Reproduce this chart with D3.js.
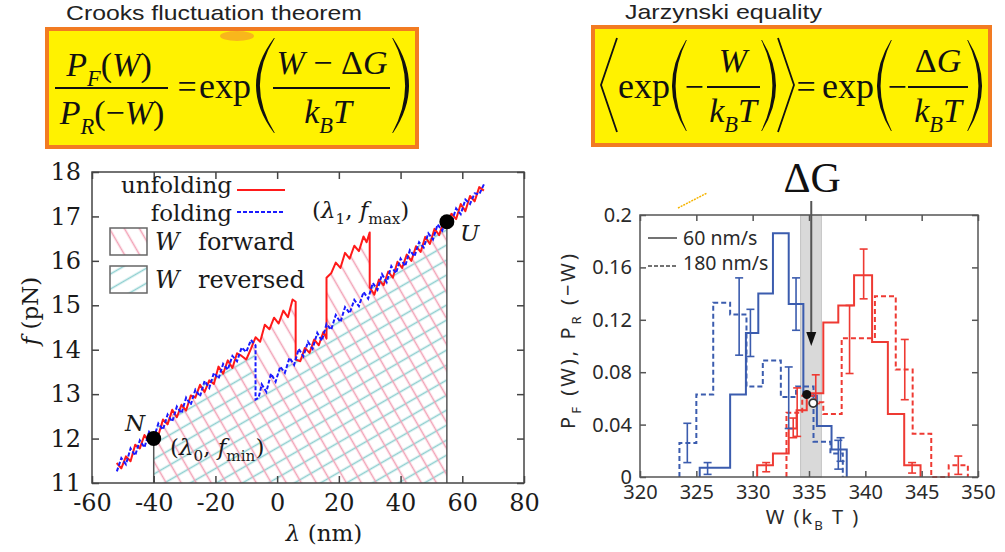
<!DOCTYPE html>
<html lang="en">
<head>
<meta charset="UTF-8" />
<title>Crooks fluctuation theorem / Jarzynski equality</title>
<script src="https://d3js.org/d3.v7.min.js"></script>
<style>
  body { margin: 0; background: #fff; }
  svg { display: block; }
</style>
</head>
<body>
<div id="chart"></div>
<script>
// ---- left panel: pulling traces, lambda (nm) vs force (pN)
const unfolding = [
  [-52, 11.45], [-50.5, 11.33], [-49, 11.60], [-47.5, 11.49], [-46, 11.86], [-44.5, 11.78],
  [-43, 12.08], [-41.5, 11.92], [-40, 12.10], [-38.5, 12.07], [-37, 12.43], [-35.5, 12.32],
  [-34, 12.65], [-32.5, 12.48], [-31, 12.76], [-29.5, 12.63], [-28, 12.97], [-26.5, 12.92],
  [-25, 13.21], [-23.5, 13.05], [-22, 13.31], [-20.5, 13.23], [-19, 13.62], [-17.5, 13.46],
  [-16, 13.76], [-14.5, 13.59], [-13, 13.92], [-11.5, 13.86], [-10, 13.78], [-8.5, 14.02],
  [-7, 14.28], [-5.5, 14.18], [-4, 14.56], [-2.5, 14.46], [-1, 14.72], [0.5, 14.59],
  [2, 14.88], [3.5, 14.73], [5, 15.13], [6, 15.08],
  [6, 13.78], [7.5, 13.74], [9, 14.04], [10.5, 13.93], [12, 14.23], [13.5, 14.10], [15, 14.40], [16, 14.25],
  [16, 15.62], [17.5, 15.72], [19, 15.96], [20.5, 15.84], [22, 16.18], [23.5, 16.05],
  [25, 16.34], [26.5, 16.22], [28, 16.55], [29, 16.42], [30, 16.64],
  [30, 15.40], [31.5, 15.24], [33, 15.58], [34.5, 15.45], [36, 15.76], [37.5, 15.62],
  [39, 15.98], [40.5, 15.84], [42, 16.14], [43.5, 16.00], [45, 16.33], [46.5, 16.20],
  [48, 16.54], [49.5, 16.38], [51, 16.72], [52.5, 16.58], [54, 16.90], [55, 16.86],
  [56.5, 17.06], [58, 16.94], [59.5, 17.28], [61, 17.12], [62.5, 17.46], [64, 17.34],
  [65.5, 17.66], [67, 17.58]
];
const folding = [
  [67, 17.72], [65.5, 17.50], [64, 17.52], [62.5, 17.28], [61, 17.38], [59.5, 17.05],
  [58, 17.18], [56.5, 16.86], [55, 16.98], [53.5, 16.68], [52, 16.82], [50.5, 16.48],
  [49, 16.62], [47.5, 16.30], [46, 16.42], [44.5, 16.10], [43, 16.24], [41.5, 15.88],
  [40, 16.05], [38.5, 15.72], [37, 15.88], [35.5, 15.52], [34, 15.70], [32.5, 15.35],
  [31, 15.50], [29.5, 15.15], [28, 15.30], [26.5, 14.98], [25, 15.12], [23.5, 14.82],
  [22, 14.96], [20.5, 14.62], [19, 14.78], [17.5, 14.45], [16, 14.58], [14.5, 14.20],
  [13, 14.38], [11.5, 14.02], [10, 14.18], [8.5, 13.85], [7, 14.02], [5.5, 13.66],
  [4, 13.82], [2.5, 13.48], [1, 13.62], [-0.5, 13.28], [-2, 13.46], [-3.5, 13.05],
  [-5, 13.22], [-6, 12.92], [-7, 12.88],
  [-7, 14.10], [-8.5, 14.22], [-10, 13.95], [-11.5, 14.05], [-13, 13.74], [-14.5, 13.86],
  [-16, 13.55], [-17.5, 13.68], [-19, 13.35], [-20.5, 13.48], [-22, 13.14], [-23.5, 13.30],
  [-25, 12.95], [-26.5, 13.10], [-28, 12.76], [-29.5, 12.92], [-31, 12.57], [-32.5, 12.72],
  [-34, 12.38], [-35.5, 12.54], [-37, 12.20], [-38.5, 12.34], [-40, 12.00], [-41.5, 12.15],
  [-43, 11.80], [-44.5, 11.96], [-46, 11.62], [-47.5, 11.78], [-49, 11.42], [-50.5, 11.56],
  [-52, 11.25]
];
const lambdaTicks = [-60, -40, -20, 0, 20, 40, 60, 80];
const forceTicks = [11, 12, 13, 14, 15, 16, 17, 18];
const lambda0 = -40, fMin = 12.0;
const lambda1 = 55, fMax = 16.88;

// ---- right panel: work histograms (W in kBT)
const revSlowEdges = [325.3, 328.0, 329.4, 330.5, 331.8, 333.2, 334.5, 335.7, 337.0, 338.35];
const revSlow = [0.007, 0.063, 0.110, 0.140, 0.186, 0.132, 0.062, 0.039, 0.021];
const revFastEdges = [323.5, 325.0, 326.5, 328.0, 329.45, 330.9, 332.5, 333.85, 335.4, 336.9, 338.0];
const revFast = [0.026, 0.063, 0.133, 0.124, 0.069, 0.089, 0.061, 0.069, 0.027, 0.018];
const fwdSlowEdges = [330.4, 331.8, 333.2, 333.9, 334.8, 336.27, 337.6, 339.0, 340.6, 342.0, 343.45, 344.9];
const fwdSlow = [0.009, 0.018, 0.037, 0.051, 0.064, 0.118, 0.131, 0.154, 0.103, 0.048, 0.009];
const fwdFastEdges = [333.0, 334.4, 335.5, 336.27, 337.9, 340.85, 342.7, 344.2, 345.85, 347.4, 349.1];
const fwdFast = [0.049, 0.062, 0.057, 0.048, 0.106, 0.138, 0.082, 0.033, 0, 0.009];
// error bars: [W, low, high]
const revErrors = [
  [324.2, 0.011, 0.041], [326.0, 0.002, 0.011], [328.8, 0.093, 0.152], [329.8, 0.092, 0.128],
  [333.2, 0.037, 0.084], [333.85, 0.112, 0.152], [337.6, 0.006, 0.028], [337.8, 0.012, 0.030]
];
const fwdErrors = [
  [331.2, 0.004, 0.011], [333.6, 0.030, 0.045], [333.95, 0.031, 0.068], [335.6, 0.056, 0.078],
  [338.6, 0.079, 0.131], [339.85, 0.136, 0.174], [343.5, 0.059, 0.105], [344.15, 0.003, 0.011],
  [348.25, 0.002, 0.016]
];
const wTicks = [320, 325, 330, 335, 340, 345, 350];
const pTicks = [0, 0.04, 0.08, 0.12, 0.16, 0.2];
const deltaG = 335.2, deltaGLow = 334.25, deltaGHigh = 336.1, arrowTip = 0.1;
const crossSlow = [334.8, 0.063];
const crossFast = [335.37, 0.0564];

const width = 1005, height = 552;
const svg = d3.select('#chart').append('svg').attr('width', width).attr('height', height);
svg.append('rect').attr('width', width).attr('height', height).attr('fill', '#fff');
const defs = svg.append('defs');

const SERIF = "'Liberation Serif', 'Times New Roman', serif";
const CM = "'DejaVu Serif', serif";
const SANS = "'Noto Sans', 'Open Sans', sans-serif";

// text with italic / subscript pieces
function rich(g, x, y, parts, o) {
  const t = g.append('text').attr('x', x).attr('y', y)
    .attr('font-family', o.family).attr('font-size', o.size)
    .attr('text-anchor', o.anchor || 'start').attr('fill', o.fill || '#111');
  if (o.spacing) t.attr('letter-spacing', o.spacing);
  let shift = 0;
  parts.forEach(([s, k]) => {
    k = k || '';
    const sp = t.append('tspan').text(s);
    const target = k.includes('sub') ? o.size * 0.28 : 0;
    if (target !== shift) sp.attr('dy', target - shift);
    shift = target;
    if (k.includes('i')) sp.attr('font-style', 'italic');
    if (k.includes('sub')) sp.attr('font-size', o.size * 0.66);
  });
  return t;
}

// big parenthesis as a filled crescent
function paren(g, xEnd, xMid, yTop, yBot, thick) {
  const ym = (yTop + yBot) / 2;
  const s = xMid < xEnd ? 1 : -1;
  const cOut = 2 * xMid - xEnd;
  const cIn = 2 * (xMid + s * thick) - xEnd;
  g.append('path')
    .attr('d', `M${xEnd},${yTop} Q${cOut},${ym} ${xEnd},${yBot} L${xEnd + s * 0.8},${yBot} Q${cIn},${ym} ${xEnd + s * 0.8},${yTop}Z`)
    .attr('fill', '#111');
}

function fracBar(g, x1, x2, y) {
  g.append('line').attr('x1', x1).attr('x2', x2).attr('y1', y).attr('y2', y)
    .attr('stroke', '#111').attr('stroke-width', 2);
}

// ---------- formula boxes ----------
const head = svg.append('g');
head.append('text').attr('x', 66).attr('y', 20).attr('font-family', "'Liberation Sans', Arial, sans-serif")
  .attr('font-size', 21).attr('fill', '#222').attr('textLength', 296).attr('lengthAdjust', 'spacingAndGlyphs')
  .text('Crooks fluctuation theorem');
head.append('text').attr('x', 625).attr('y', 19).attr('font-family', "'Liberation Sans', Arial, sans-serif")
  .attr('font-size', 21).attr('fill', '#222').attr('textLength', 197).attr('lengthAdjust', 'spacingAndGlyphs')
  .text('Jarzynski equality');

[[47, 29, 370, 118], [593, 27, 397, 118]].forEach(([x, y, w, h]) => {
  head.append('rect').attr('x', x).attr('y', y).attr('width', w).attr('height', h)
    .attr('fill', '#fff200').attr('stroke', '#f27b22').attr('stroke-width', 4);
});
head.append('ellipse').attr('cx', 237).attr('cy', 36).attr('rx', 17).attr('ry', 5)
  .attr('fill', '#f6a623').attr('opacity', 0.8);

const fo = { family: SERIF, size: 34, anchor: 'middle' };
// Crooks
rich(head, 109, 76, [['P', 'i'], ['F', 'i sub'], ['(', ''], ['W', 'i'], [')', '']], fo);
fracBar(head, 55, 168, 88);
rich(head, 112, 124, [['P', 'i'], ['R', 'i sub'], ['(−', ''], ['W', 'i'], [')', '']], fo);
rich(head, 187, 98, [['=', '']], fo);
rich(head, 199, 98, [['exp', '']], Object.assign({}, fo, { anchor: 'start', size: 36 }));
paren(head, 274, 256, 38, 133, 3.5);
rich(head, 332, 74, [['W', 'i'], [' − Δ', ''], ['G', 'i']], fo);
fracBar(head, 273, 390, 88);
rich(head, 328, 123, [['k', 'i'], ['B', 'i sub'], ['T', 'i']], fo);
paren(head, 393, 409, 38, 133, 3.5);

// Jarzynski
head.append('path').attr('d', 'M617,38 L601,85 L617,132').attr('fill', 'none')
  .attr('stroke', '#111').attr('stroke-width', 1.8);
rich(head, 618, 98, [['exp', '']], Object.assign({}, fo, { anchor: 'start', size: 36 }));
paren(head, 686, 672, 40, 131, 3.2);
rich(head, 694, 98, [['−', '']], fo);
rich(head, 733, 72, [['W', 'i']], fo);
fracBar(head, 707, 760, 87);
rich(head, 733, 122, [['k', 'i'], ['B', 'i sub'], ['T', 'i']], fo);
paren(head, 762, 776, 40, 131, 3.2);
head.append('path').attr('d', 'M778,38 L794,85 L778,132').attr('fill', 'none')
  .attr('stroke', '#111').attr('stroke-width', 1.8);
rich(head, 806, 98, [['=', '']], fo);
rich(head, 822, 98, [['exp', '']], Object.assign({}, fo, { anchor: 'start', size: 36 }));
paren(head, 891, 877, 40, 131, 3.2);
rich(head, 897, 98, [['−', '']], fo);
rich(head, 938, 72, [['Δ', ''], ['G', 'i']], fo);
fracBar(head, 908, 968, 87);
rich(head, 938, 122, [['k', 'i'], ['B', 'i sub'], ['T', 'i']], fo);
paren(head, 968, 982, 40, 131, 3.2);

// ---------- left chart ----------
const xL = d3.scaleLinear().domain([-60, 80]).range([92, 524]);
const yL = d3.scaleLinear().domain([11, 18]).range([483, 172]);
const L = svg.append('g');

function hatch(id, color, vertical) {
  const p = defs.append('pattern').attr('id', id).attr('patternUnits', 'userSpaceOnUse')
    .attr('width', 13).attr('height', 13).attr('patternTransform', 'rotate(-30)');
  if (vertical) p.append('line').attr('x1', 6.5).attr('x2', 6.5).attr('y1', 0).attr('y2', 13);
  else p.append('line').attr('x1', 0).attr('x2', 13).attr('y1', 6.5).attr('y2', 6.5);
  p.select('line').attr('stroke', color).attr('stroke-width', 1.6);
}
hatch('hatchFwd', '#f2a2b6', true);
hatch('hatchRev', '#8ecfd0', false);

const lineL = d3.line().x(d => xL(d[0])).y(d => yL(d[1]));
function underArea(trace) {
  const pts = trace.filter(d => d[0] >= lambda0 && d[0] <= lambda1);
  const a = pts[0], b = pts[pts.length - 1];
  return [[a[0], 11], ...pts, [b[0], 11]];
}
L.append('path').attr('d', lineL(underArea(folding)) + 'Z').attr('fill', 'url(#hatchRev)');
L.append('path').attr('d', lineL(underArea(unfolding)) + 'Z').attr('fill', 'url(#hatchFwd)');

// limits of integration
L.append('line').attr('x1', xL(lambda0)).attr('x2', xL(lambda0)).attr('y1', yL(11)).attr('y2', yL(fMin))
  .attr('stroke', '#555').attr('stroke-width', 1.5);
L.append('line').attr('x1', xL(lambda1)).attr('x2', xL(lambda1)).attr('y1', yL(11)).attr('y2', yL(fMax))
  .attr('stroke', '#555').attr('stroke-width', 1.5);

L.append('path').attr('d', lineL(unfolding)).attr('fill', 'none')
  .attr('stroke', '#ff1a1a').attr('stroke-width', 2).attr('stroke-linejoin', 'round');
L.append('path').attr('d', lineL(folding)).attr('fill', 'none')
  .attr('stroke', '#1a1aff').attr('stroke-width', 2).attr('stroke-dasharray', '4,2');

// axes: inward ticks on all four sides
const tickFmt = d => String(d);
L.append('g').attr('transform', `translate(0,${yL(11)})`)
  .call(d3.axisBottom(xL).tickValues(lambdaTicks).tickSize(-7).tickPadding(11).tickFormat(tickFmt));
L.append('g').attr('transform', `translate(0,${yL(18)})`)
  .call(d3.axisTop(xL).tickValues(lambdaTicks).tickSize(-7).tickFormat(''));
L.append('g').attr('transform', `translate(${xL(-60)},0)`)
  .call(d3.axisLeft(yL).tickValues(forceTicks).tickSize(-7).tickPadding(11).tickFormat(tickFmt));
L.append('g').attr('transform', `translate(${xL(80)},0)`)
  .call(d3.axisRight(yL).tickValues(forceTicks).tickSize(-7).tickFormat(''));
L.selectAll('.domain').remove();
L.selectAll('.tick line').attr('stroke', '#444').attr('stroke-width', 1.5);
L.selectAll('.tick text').attr('font-family', CM).attr('font-size', 24).attr('fill', '#1a1a1a');
L.append('rect').attr('x', xL(-60)).attr('y', yL(18)).attr('width', xL(80) - xL(-60))
  .attr('height', yL(11) - yL(18)).attr('fill', 'none').attr('stroke', '#444').attr('stroke-width', 1.5);

// end points
L.append('circle').attr('cx', xL(lambda0)).attr('cy', yL(fMin)).attr('r', 7.5).attr('fill', '#000');
L.append('circle').attr('cx', xL(lambda1)).attr('cy', yL(fMax)).attr('r', 7.5).attr('fill', '#000');

const lo = { family: CM, size: 23, fill: '#1a1a1a' };
rich(L, 125, 431, [['N', 'i']], lo);
rich(L, 170, 455, [['(', ''], ['λ', 'i'], ['0', 'sub'], [', ', ''], ['f', 'i'], ['min', 'sub'], [')', '']], lo);
rich(L, 312, 218, [['(', ''], ['λ', 'i'], ['1', 'sub'], [', ', ''], ['f', 'i'], ['max', 'sub'], [')', '']], lo);
rich(L, 460, 241, [['U', 'i']], lo);

// legend
rich(L, 232, 193, [['unfolding', '']], Object.assign({}, lo, { anchor: 'end', size: 23 }));
rich(L, 232, 221, [['folding', '']], Object.assign({}, lo, { anchor: 'end', size: 23 }));
L.append('line').attr('x1', 237).attr('x2', 285).attr('y1', 190).attr('y2', 190)
  .attr('stroke', '#ff1a1a').attr('stroke-width', 2);
L.append('line').attr('x1', 237).attr('x2', 285).attr('y1', 212).attr('y2', 212)
  .attr('stroke', '#1a1aff').attr('stroke-width', 2).attr('stroke-dasharray', '4,2');
[[228, 'hatchFwd', 'forward'], [266, 'hatchRev', 'reversed']].forEach(([y, pat, label]) => {
  L.append('rect').attr('x', 110).attr('y', y).attr('width', 37).attr('height', 27)
    .attr('fill', `url(#${pat})`).attr('stroke', '#666').attr('stroke-width', 1.5);
  rich(L, 155, y + 22, [['W', 'i']], Object.assign({}, lo, { size: 24 }));
  rich(L, 198, y + 22, [[label, '']], Object.assign({}, lo, { size: 24 }));
});

// axis titles
rich(L, 324, 541, [['λ', 'i'], [' (nm)', '']], Object.assign({}, lo, { anchor: 'middle' }));
rich(L, 0, 0, [['f', 'i'], [' (pN)', '']], Object.assign({}, lo, { anchor: 'middle' }))
  .attr('transform', 'translate(38,311) rotate(-90)');

// ---------- right chart ----------
const xR = d3.scaleLinear().domain([320, 350]).range([640, 978]);
const yR = d3.scaleLinear().domain([0, 0.2]).range([477, 215]);
const R = svg.append('g');

R.append('rect').attr('x', xR(deltaGLow)).attr('y', yR(0.2)).attr('width', xR(deltaGHigh) - xR(deltaGLow))
  .attr('height', yR(0) - yR(0.2)).attr('fill', '#d9d9d9').attr('stroke', '#c4c4c4');

const stepLine = d3.line().x(d => xR(d[0])).y(d => yR(d[1])).curve(d3.curveStepAfter);
function stepPoints(edges, vals) {
  const pts = [[edges[0], 0]];
  vals.forEach((v, i) => pts.push([edges[i], v]));
  pts.push([edges[edges.length - 1], 0]);
  return pts;
}
const BLUE = '#3b5cae', RED = '#ee3a33';
[[revFastEdges, revFast, BLUE, '5,3'], [revSlowEdges, revSlow, BLUE, null],
 [fwdFastEdges, fwdFast, RED, '5,3'], [fwdSlowEdges, fwdSlow, RED, null]].forEach(([e, v, c, dash]) => {
  R.append('path').attr('d', stepLine(stepPoints(e, v))).attr('fill', 'none')
    .attr('stroke', c).attr('stroke-width', 2).attr('stroke-dasharray', dash);
});

function errorBars(data, color) {
  data.forEach(([w, a, b]) => {
    const x = xR(w);
    R.append('line').attr('x1', x).attr('x2', x).attr('y1', yR(a)).attr('y2', yR(b))
      .attr('stroke', color).attr('stroke-width', 1.6);
    [a, b].forEach(v => R.append('line').attr('x1', x - 4).attr('x2', x + 4)
      .attr('y1', yR(v)).attr('y2', yR(v)).attr('stroke', color).attr('stroke-width', 1.6));
  });
}
errorBars(revErrors, BLUE);
errorBars(fwdErrors, RED);

// delta G marker
const xg = xR(deltaG);
R.append('line').attr('x1', xg).attr('x2', xg).attr('y1', 201).attr('y2', yR(arrowTip) - 12)
  .attr('stroke', '#555').attr('stroke-width', 2);
R.append('path').attr('d', `M${xg - 5},${yR(arrowTip) - 14} L${xg + 5},${yR(arrowTip) - 14} L${xg},${yR(arrowTip)}Z`)
  .attr('fill', '#111');
R.append('circle').attr('cx', xR(crossSlow[0])).attr('cy', yR(crossSlow[1])).attr('r', 4.5).attr('fill', '#111');
R.append('circle').attr('cx', xR(crossFast[0])).attr('cy', yR(crossFast[1])).attr('r', 4)
  .attr('fill', '#fff').attr('stroke', '#333').attr('stroke-width', 1.8);
rich(R, xg + 1, 192, [['ΔG', '']], { family: SERIF, size: 42, anchor: 'middle' });

// axes
R.append('g').attr('transform', `translate(0,${yR(0)})`)
  .call(d3.axisBottom(xR).tickValues(wTicks).tickSize(-6).tickPadding(8).tickFormat(tickFmt));
R.append('g').attr('transform', `translate(0,${yR(0.2)})`)
  .call(d3.axisTop(xR).tickValues(wTicks).tickSize(-6).tickFormat(''));
R.append('g').attr('transform', `translate(${xR(320)},0)`)
  .call(d3.axisLeft(yR).tickValues(pTicks).tickSize(-6).tickPadding(8).tickFormat(tickFmt));
R.append('g').attr('transform', `translate(${xR(350)},0)`)
  .call(d3.axisRight(yR).tickValues(pTicks).tickSize(-6).tickFormat(''));
R.selectAll('.domain').remove();
R.selectAll('.tick line').attr('stroke', '#555').attr('stroke-width', 1.5);
R.selectAll('.tick text').attr('font-family', SANS).attr('font-size', 20).attr('fill', '#2a2a2a');
R.append('rect').attr('x', xR(320)).attr('y', yR(0.2)).attr('width', xR(350) - xR(320))
  .attr('height', yR(0) - yR(0.2)).attr('fill', 'none').attr('stroke', '#555').attr('stroke-width', 1.5);

// legend
R.append('line').attr('x1', 648).attr('x2', 677).attr('y1', 238).attr('y2', 238)
  .attr('stroke', '#444').attr('stroke-width', 1.5);
R.append('line').attr('x1', 648).attr('x2', 677).attr('y1', 266).attr('y2', 266)
  .attr('stroke', '#444').attr('stroke-width', 1.5).attr('stroke-dasharray', '4,2');
const so = { family: SANS, size: 20, fill: '#2a2a2a' };
rich(R, 683, 245, [['60 nm/s', '']], Object.assign({}, so, { size: 19.5 }));
rich(R, 683, 270, [['180 nm/s', '']], Object.assign({}, so, { size: 19.5 }));

// axis titles
rich(R, 813, 524, [['W  (k', ''], ['B', 'sub'], [' T )', '']], Object.assign({}, so, { anchor: 'middle', spacing: 2 }));
rich(R, 0, 0, [['P', ''], ['F', 'sub'], [' (W),  P', ''], ['R', 'sub'], [' (−W)', '']],
  Object.assign({}, so, { anchor: 'middle', spacing: 3 }))
  .attr('transform', 'translate(575,340) rotate(-90)');

// stray pen mark
R.append('line').attr('x1', 678).attr('y1', 208).attr('x2', 707).attr('y2', 193)
  .attr('stroke', '#f5b400').attr('stroke-width', 1.5).attr('stroke-dasharray', '2,1');
</script>
</body>
</html>
